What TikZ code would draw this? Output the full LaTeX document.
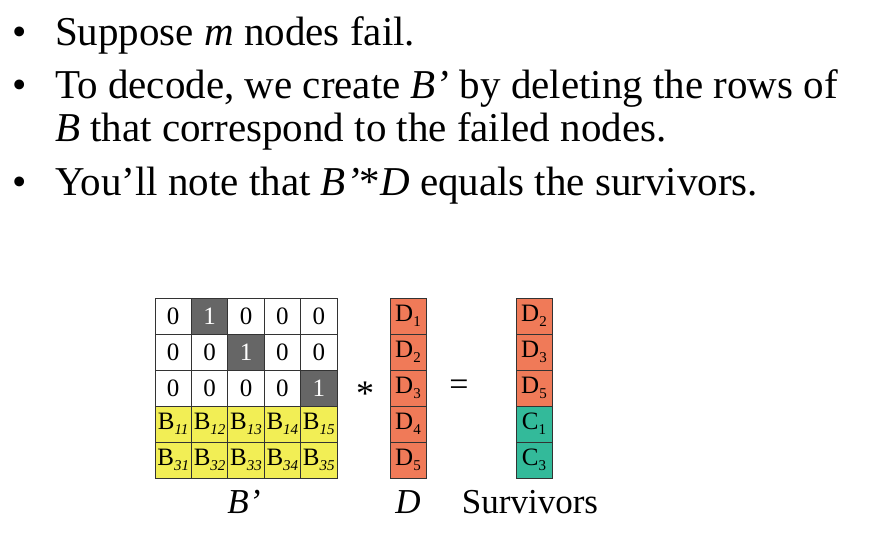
\documentclass[tikz,border=0pt]{standalone}
\usepackage{fontspec}
\setmainfont{Liberation Serif}
\definecolor{salm}{HTML}{F07A58}
\definecolor{tl}{HTML}{33BA9A}
\definecolor{yl}{HTML}{F2EE55}
\newcommand\sbB[1]{B\raisebox{-0.4ex}{\fontsize{15}{15}\selectfont\textit{#1}}}
\begin{document}
\begin{tikzpicture}[x=1pt,y=-1pt,
 cell/.style={draw=black!80,line width=0.8pt,minimum width=36.4pt,minimum height=36pt,inner sep=0pt,font=\fontsize{25}{27}\selectfont},
 wc/.style={cell,fill=white},
 dc/.style={cell,fill=black!60,text=white},
 yc/.style={cell,fill=yl},
 oc/.style={cell,fill=salm,minimum width=36pt},
 tc/.style={cell,fill=tl,minimum width=36pt},
 bul/.style={anchor=base west,font=\fontsize{41}{44}\selectfont,inner sep=0pt},
 lab/.style={anchor=base,font=\fontsize{35}{38}\selectfont,inner sep=0pt}]
\useasboundingbox (0,0) rectangle (877,533);
\node[bul] (b1) at (12,45) {•}; \node[bul] (t1) at (55,45) {Suppose \textit{m} nodes fail.};
\node[bul] (b2) at (12,98) {•}; \node[bul] (t2) at (55,98) {To decode, we create \textit{B’} by deleting the rows of};
\node[bul] (t2b) at (55,141) {\textit{B} that correspond to the failed nodes.};
\node[bul] (b3) at (12,195) {•}; \node[bul] (t3) at (55,195) {You’ll note that \textit{B’}*\textit{D} equals the survivors.};
\foreach \r/\row in {0/{wc/0,dc/1,wc/0,wc/0,wc/0},1/{wc/0,wc/0,dc/1,wc/0,wc/0},2/{wc/0,wc/0,wc/0,wc/0,dc/1},3/{yc/\sbB{11},yc/\sbB{12},yc/\sbB{13},yc/\sbB{14},yc/\sbB{15}},4/{yc/\sbB{31},yc/\sbB{32},yc/\sbB{33},yc/\sbB{34},yc/\sbB{35}}}{
 \foreach \s/\t [count=\c from 0] in \row {
  \node[\s] (m\r\c) at (173.2+36.4*\c,316+36*\r) {\t};
 }
}
\foreach \t [count=\i from 0] in {1,2,3,4,5}
 \node[oc] (d\i) at (408,316+36*\i) {D\raisebox{-0.45ex}{\fontsize{15}{15}\selectfont\t}};
\foreach \s/\l/\t [count=\i from 0] in {oc/D/2,oc/D/3,oc/D/5,tc/C/1,tc/C/3}
 \node[\s] (s\i) at (534,316+36*\i) {\l\raisebox{-0.45ex}{\fontsize{15}{15}\selectfont\t}};
\node[font=\fontsize{36}{38}\selectfont] (star) at (365,394) {*};
\node[font=\fontsize{34}{36}\selectfont] (eq) at (459,388) {=};
\node[lab] (lb) at (244,513) {\textit{B’}};
\node[lab] (ld) at (408,513) {\textit{D}};
\node[lab] (ls) at (530,513) {Survivors};
\end{tikzpicture}
\end{document}
